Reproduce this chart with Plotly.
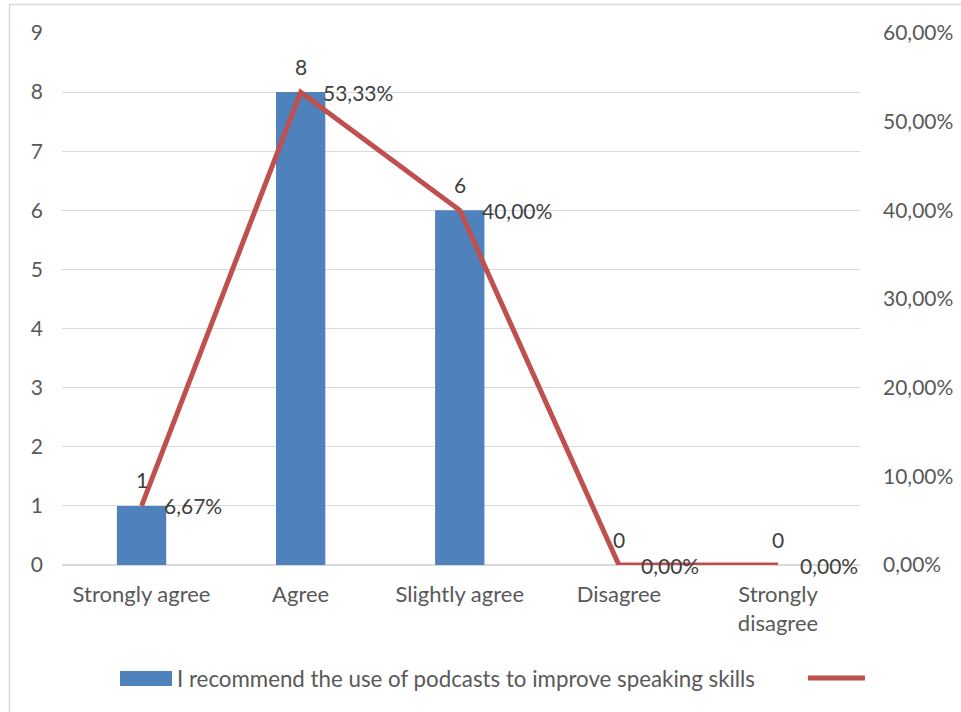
import plotly.graph_objects as go

# Survey item and answers
series_name = "I recommend the use of podcasts to improve speaking skills"
categories = ["Strongly agree", "Agree", "Slightly agree", "Disagree", "Strongly disagree"]
tick_labels = ["Strongly agree", "Agree", "Slightly agree", "Disagree", "Strongly<br>disagree"]
counts = [1, 8, 6, 0, 0]
shares = [0.0667, 0.5333, 0.40, 0.0, 0.0]

BLUE = "#4F81BD"
RED = "#C0504D"
GRID = "#D9D9D9"
TICK = "#595959"
LABEL = "#404040"
FONT = "Lato, 'Open Sans', sans-serif"

W, H = 961, 712
ML, MR, MT, MB = 62, 101, 33, 147
PW, PH = W - ML - MR, H - MT - MB


def px_x(x):
    return (x - ML) / PW


def px_y(y):
    return (H - MB - y) / PH


fig = go.Figure()
fig.add_trace(go.Bar(
    x=categories, y=counts, name=series_name,
    marker=dict(color=BLUE, line=dict(width=0)),
    width=0.31, yaxis="y", showlegend=False,
))
fig.add_trace(go.Scatter(
    x=categories, y=shares, mode="lines", name="",
    line=dict(color=RED, width=5), yaxis="y2", showlegend=False,
))

annotations = []
for c, v in zip(categories, counts):
    annotations.append(dict(
        x=c, y=v, xref="x", yref="y", text=str(v), showarrow=False,
        yanchor="middle", yshift=26, font=dict(size=21, color=LABEL, family=FONT),
    ))
for c, s in zip(categories, shares):
    annotations.append(dict(
        x=c, y=s, xref="x", yref="y2",
        text=f"{s * 100:.2f}%".replace(".", ","), showarrow=False,
        xanchor="left", yanchor="middle", xshift=20,
        font=dict(size=21, color=LABEL, family=FONT),
    ))

# Legend row
annotations.append(dict(
    x=px_x(175), y=px_y(678), xref="paper", yref="paper", text=series_name,
    showarrow=False, xanchor="left", yanchor="middle",
    font=dict(size=22.3, color=TICK, family=FONT),
))
shapes = [
    dict(type="rect", xref="paper", yref="paper",
         x0=px_x(120), x1=px_x(172), y0=px_y(686), y1=px_y(671),
         fillcolor=BLUE, line=dict(width=0)),
    dict(type="line", xref="paper", yref="paper",
         x0=px_x(808), x1=px_x(865), y0=px_y(678), y1=px_y(678),
         line=dict(color=RED, width=5)),
    # chart frame
    dict(type="rect", xref="paper", yref="paper",
         x0=px_x(9.5), x1=px_x(W + 20), y0=px_y(H + 20), y1=px_y(4.5),
         fillcolor="rgba(0,0,0,0)", line=dict(color=GRID, width=1.5), layer="below"),
]

fig.update_layout(
    width=W, height=H,
    margin=dict(l=ML, r=MR, t=MT, b=MB, autoexpand=False),
    paper_bgcolor="white", plot_bgcolor="white",
    separators=", ",
    font=dict(family=FONT, size=21, color=TICK),
    bargap=0.69,
    xaxis=dict(
        type="category", categoryorder="array", categoryarray=categories,
        tickmode="array", tickvals=categories, ticktext=tick_labels,
        showgrid=False, showline=False, ticks="", ticklabelstandoff=14,
        tickfont=dict(size=22, color=TICK), automargin=False,
    ),
    yaxis=dict(
        range=[0, 9], dtick=1, showgrid=True, gridcolor=GRID, gridwidth=1,
        zeroline=True, zerolinecolor=GRID, zerolinewidth=1.5,
        showline=False, ticks="", ticklabelstandoff=18,
        tickfont=dict(size=21, color=TICK), automargin=False,
    ),
    yaxis2=dict(
        range=[0, 0.6], dtick=0.1, tickformat=".2%", overlaying="y", side="right",
        showgrid=False, zeroline=False, showline=False, ticks="",
        ticklabelstandoff=22, tickfont=dict(size=21, color=TICK), automargin=False,
    ),
    annotations=annotations,
    shapes=shapes,
    showlegend=False,
)

fig.write_html("out.html")
